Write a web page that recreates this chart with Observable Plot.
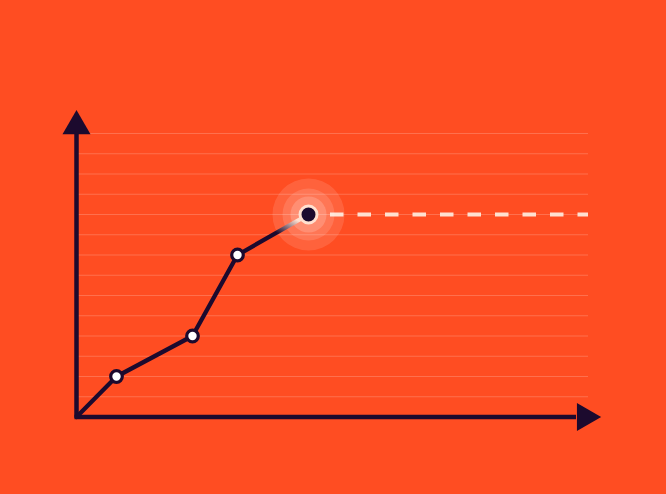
<!DOCTYPE html>
<html>
<head>
<meta charset="utf-8">
<script src="https://cdn.jsdelivr.net/npm/d3@7"></script>
<script src="https://cdn.jsdelivr.net/npm/@observablehq/plot@0.6"></script>
<style>
  html, body { margin: 0; padding: 0; background: #FF4D22; width: 666px; height: 494px; overflow: hidden; }
  #chart svg { display: block; }
</style>
</head>
<body>
<div id="chart"></div>
<script>
// ---- data ----
const xValues = [0, 40, 116, 161, 232];      // progress positions
const yValues = [0, 2, 4, 8, 10];            // levels
const gridLevels = [1, 2, 3, 4, 5, 6, 7, 8, 9, 10, 11, 12, 13, 14];
const targetLevel = 10;                       // dashed projection level
const xMax = 512;
const yMax = 14;

const navy = "#1C0A2E";
const pale = "#FFE0D0";

const pts = xValues.map((x, i) => ({x, y: yValues[i]}));
const openPts = pts.slice(1, -1);
const last = pts[pts.length - 1];
const prev = pts[pts.length - 2];

const chart = Plot.plot({
  width: 666,
  height: 494,
  marginLeft: 76,
  marginRight: 78,
  marginTop: 133,
  marginBottom: 77.5,
  x: {domain: [0, xMax], axis: null},
  y: {domain: [0, yMax], axis: null},
  style: {background: "transparent", overflow: "visible"},
  marks: [
    // grid lines
    Plot.ruleY(gridLevels, {x1: 0, x2: xMax, stroke: "#FFFFFF", strokeOpacity: 0.2, strokeWidth: 1}),
    // dashed projection
    Plot.ruleY([targetLevel], {x1: last.x + 22, x2: xMax, stroke: pale, strokeWidth: 4, strokeDasharray: "13.5,14"}),
    // glow rings
    Plot.dot([last], {x: "x", y: "y", r: 36, fill: "#FFFFFF", fillOpacity: 0.12}),
    Plot.dot([last], {x: "x", y: "y", r: 26, fill: "#FFFFFF", fillOpacity: 0.13}),
    Plot.dot([last], {x: "x", y: "y", r: 18, fill: "#FFFFFF", fillOpacity: 0.18}),
    // axes
    Plot.ruleX([0], {y1: 0, y2: 13.95, stroke: navy, strokeWidth: 4.5}),
    Plot.ruleY([0], {x1: -1.5, x2: 500, stroke: navy, strokeWidth: 4.5}),
    Plot.dot([{x: 0, y: 14.36}], {x: "x", y: "y", symbol: "triangle", r: 10.4, fill: navy, stroke: null}),
    Plot.dot([{x: 508.5, y: 0}], {x: "x", y: "y", symbol: "triangle", r: 10.4, fill: navy, stroke: null, rotate: 90}),
    // main line (solid part)
    Plot.line(pts.slice(0, -1), {x: "x", y: "y", stroke: navy, strokeWidth: 4.3, strokeLinejoin: "round", strokeLinecap: "round"}),
    // last segment fading
    Plot.link([{x1: prev.x, y1: prev.y, x2: last.x, y2: last.y}], {x1: "x1", y1: "y1", x2: "x2", y2: "y2", stroke: "url(#fadeGrad)", strokeWidth: 4.3, strokeLinecap: "round"}),
    // open points
    Plot.dot(openPts, {x: "x", y: "y", r: 5.8, fill: "#FFFFFF", stroke: navy, strokeWidth: 3.2}),
    // current point
    Plot.dot([last], {x: "x", y: "y", r: 8.5, fill: navy, stroke: pale, strokeWidth: 3})
  ]
});

const svg = d3.select(chart);
const defs = svg.insert("defs", ":first-child");
const grad = defs.append("linearGradient")
  .attr("id", "fadeGrad")
  .attr("x1", "0").attr("y1", "1").attr("x2", "1").attr("y2", "0");
grad.append("stop").attr("offset", "0").attr("stop-color", navy);
grad.append("stop").attr("offset", "0.55").attr("stop-color", navy);
grad.append("stop").attr("offset", "0.85").attr("stop-color", pale);
grad.append("stop").attr("offset", "1").attr("stop-color", pale);

document.getElementById("chart").appendChild(chart);
</script>
</body>
</html>
